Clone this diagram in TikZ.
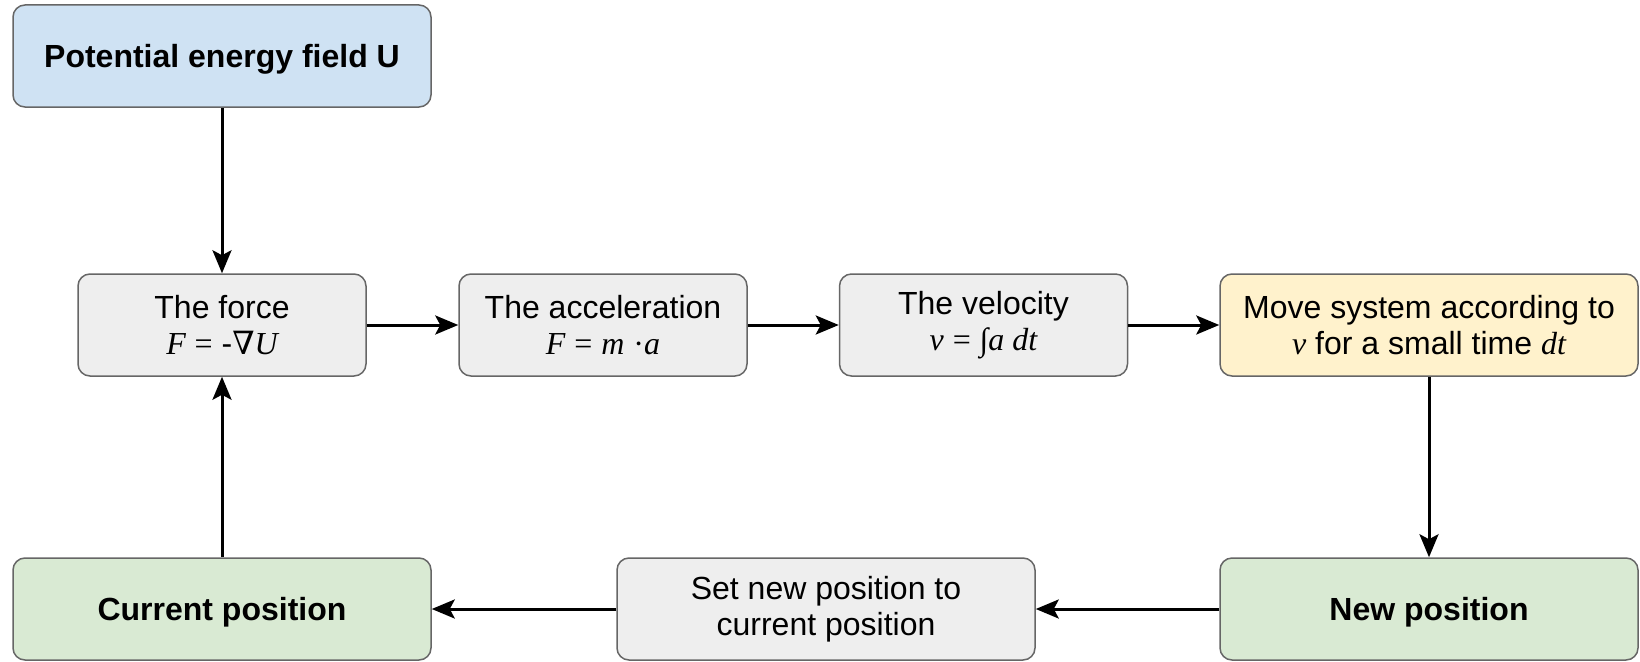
\documentclass[tikz,border=0pt]{standalone}
\usepackage{fontspec}
\setmainfont{Liberation Sans}
\newfontfamily\mserif{Liberation Serif}
\newfontfamily\dvserif{DejaVu Serif}
\usetikzlibrary{arrows.meta}
\definecolor{boxline}{HTML}{666666}
\definecolor{fblue}{HTML}{CFE2F3}
\definecolor{fgray}{HTML}{EEEEEE}
\definecolor{fyellow}{HTML}{FFF2CC}
\definecolor{fgreen}{HTML}{D9EAD3}
\newcommand{\mi}[1]{{\mserif\itshape #1}}
\newcommand{\mr}[1]{{\mserif #1}}
\tikzset{
  box/.style={rectangle, rounded corners=12pt, draw=boxline, line width=1.5pt,
    minimum height=102pt, align=center, inner sep=4pt,
    font=\fontsize{32}{36}\selectfont},
  wide/.style={box, minimum width=418pt},
  narrow/.style={box, minimum width=288pt},
  boldbox/.style={wide, font=\fontsize{32}{36}\selectfont\bfseries, text height=29pt, text depth=6pt},
  flow/.style={draw=black, line width=3pt, -{Stealth[length=23pt,width=19pt,inset=5pt]}}
}
\begin{document}
\begin{tikzpicture}[x=1pt,y=-1pt]
\useasboundingbox (0,0) rectangle (1640,661);
\node[boldbox, fill=fblue] (pot) at (222,56) {Potential energy field U};
\node[narrow, fill=fgray] (force) at (222,325) {The force\\\mi{F} \mr{=} -{\dvserif\itshape ∇}\mi{U}};
\node[narrow, fill=fgray] (acc) at (603,325) {The acceleration\\\mi{F} \mr{=} \mi{m} \mr{·}\mi{a}};
\node[narrow, fill=fgray] (vel) at (983.5,325) {The velocity\\\mi{v} \mr{=} \mr{∫}\mi{a dt}};
\node[wide, fill=fyellow] (move) at (1429,325) {Move system according to\\\mi{v} for a small time \mi{dt}};
\node[boldbox, fill=fgreen] (cur) at (222,609) {Current position};
\node[wide, fill=fgray] (set) at (826,609) {Set new position to\\current position};
\node[boldbox, fill=fgreen] (new) at (1429,609) {New position};
\draw[flow] (pot) -- (force);
\draw[flow] (force) -- (acc);
\draw[flow] (acc) -- (vel);
\draw[flow] (vel) -- (move);
\draw[flow] (move) -- (new);
\draw[flow] (new) -- (set);
\draw[flow] (set) -- (cur);
\draw[flow] (cur) -- (force);
\end{tikzpicture}
\end{document}
